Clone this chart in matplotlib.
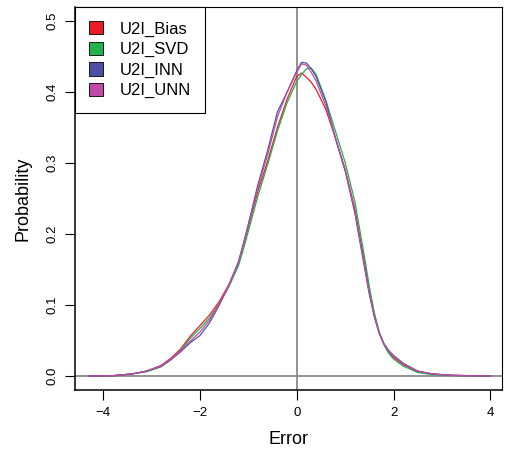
import matplotlib.pyplot as plt
from matplotlib.patches import Patch

plt.rcParams['font.family'] = ['Liberation Sans', 'DejaVu Sans']

# density estimates
err = [-4.3, -3.8, -3.4, -3.1, -2.8, -2.6, -2.4, -2.2, -2.0, -1.8, -1.6, -1.4, -1.2, -1.1,
       -1.0, -0.8, -0.6, -0.4, -0.2, 0.0, 0.1, 0.2, 0.3, 0.4, 0.6, 0.8, 1.0, 1.2,
       1.4, 1.5, 1.6, 1.7, 1.8, 1.9, 2.0, 2.2, 2.5, 2.8, 3.2, 3.6, 4.0]

bias = [0.0, 0.0005, 0.003, 0.007, 0.015, 0.025, 0.038, 0.056, 0.071, 0.086, 0.105, 0.129, 0.160, 0.184,
        0.210, 0.261, 0.303, 0.350, 0.390, 0.422, 0.427, 0.421, 0.414, 0.404, 0.376, 0.335, 0.291, 0.236,
        0.160, 0.120, 0.087, 0.062, 0.045, 0.034, 0.026, 0.016, 0.006, 0.003, 0.001, 0.0005, 0.0]
svd = [0.0, 0.0005, 0.003, 0.006, 0.013, 0.023, 0.036, 0.053, 0.067, 0.082, 0.102, 0.126, 0.156, 0.179,
       0.204, 0.254, 0.298, 0.345, 0.385, 0.415, 0.425, 0.433, 0.434, 0.425, 0.389, 0.345, 0.301, 0.246,
       0.168, 0.126, 0.090, 0.063, 0.044, 0.032, 0.024, 0.014, 0.005, 0.002, 0.001, 0.0005, 0.0]
inn = [0.0, 0.0005, 0.003, 0.007, 0.014, 0.023, 0.034, 0.047, 0.057, 0.075, 0.100, 0.128, 0.162, 0.187,
       0.214, 0.270, 0.318, 0.372, 0.400, 0.430, 0.442, 0.441, 0.433, 0.422, 0.387, 0.335, 0.289, 0.230,
       0.153, 0.115, 0.084, 0.061, 0.046, 0.036, 0.029, 0.018, 0.007, 0.003, 0.001, 0.0005, 0.0]
unn = [0.0, 0.0005, 0.003, 0.007, 0.014, 0.024, 0.035, 0.049, 0.062, 0.079, 0.102, 0.128, 0.161, 0.186,
       0.212, 0.266, 0.312, 0.365, 0.400, 0.428, 0.440, 0.438, 0.428, 0.416, 0.381, 0.336, 0.291, 0.232,
       0.155, 0.117, 0.085, 0.061, 0.045, 0.035, 0.028, 0.017, 0.007, 0.003, 0.001, 0.0005, 0.0]

names = ['U2I_Bias', 'U2I_SVD', 'U2I_INN', 'U2I_UNN']
colors = ['#ed1c24', '#22b14c', '#4f4fa8', '#c04aa6']

fig = plt.figure(figsize=(5.08, 4.53), dpi=100)
ax = fig.add_axes([0.1476, 0.139, 0.8406, 0.8455])

ax.axvline(0, color='#7f7f7f', lw=1.2, zorder=1)
ax.axhline(0, color='#7f7f7f', lw=1.2, zorder=1)

for ys, c in zip([bias, svd, inn, unn], colors):
    ax.plot(err, ys, color=c, lw=0.9, zorder=2)

ax.set_xlim(-4.58, 4.24)
ax.set_ylim(-0.0197, 0.52)
ax.set_xticks([-4, -2, 0, 2, 4])
ax.set_xticklabels(['\u22124', '\u22122', '0', '2', '4'])
ax.set_yticks([0.0, 0.1, 0.2, 0.3, 0.4, 0.5])
ax.set_yticklabels(['0.0', '0.1', '0.2', '0.3', '0.4', '0.5'], rotation=90, va='center')
ax.tick_params(direction='out', length=7, width=0.8, labelsize=9.5, pad=5)
for s in ax.spines.values():
    s.set_linewidth(0.8)
ax.spines['bottom'].set_linewidth(1.1)
ax.spines['left'].set_linewidth(1.1)

ax.set_xlabel('Error', fontsize=13, labelpad=9)
ax.set_ylabel('Probability', fontsize=13, labelpad=11)

handles = [Patch(facecolor=c, edgecolor='black', lw=0.6) for c in colors]
leg = ax.legend(handles, names, loc='upper left', bbox_to_anchor=(0, 1), borderaxespad=0,
                fancybox=False, edgecolor='black', framealpha=1, fontsize=12,
                handlelength=0.85, handleheight=0.85, handletextpad=1.0, labelspacing=0.3,
                borderpad=0.85)
leg.get_frame().set_linewidth(0.8)

fig.savefig('out.png', dpi=100)
